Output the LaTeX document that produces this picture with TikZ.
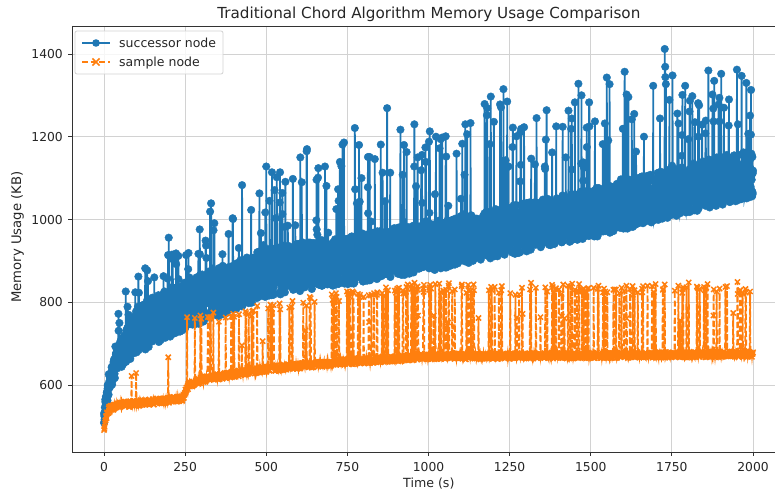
\documentclass[tikz,border=0pt]{standalone}
\usepackage{fontspec}
\setmainfont{DejaVu Sans}
\usetikzlibrary{plotmarks}
\definecolor{cblue}{HTML}{1F77B4}
\definecolor{corange}{HTML}{FF7F0E}
\definecolor{gridc}{HTML}{D2D2D2}
\definecolor{spinec}{HTML}{333333}
\tikzset{
  gridline/.style={draw=gridc, line width=0.9pt},
  tickmark/.style={draw=spinec, line width=0.9pt},
  spine/.style={draw=spinec, line width=0.9pt},
  ticklab/.style={inner sep=0pt, font=\fontsize{12.3}{14}\selectfont, text=black!85},
  axlab/.style={inner sep=0pt, font=\fontsize{12.6}{14}\selectfont, text=black!85},
  titlelab/.style={inner sep=0pt, font=\fontsize{15.2}{17}\selectfont, text=black!85},
  leglab/.style={inner sep=0pt, font=\fontsize{12.5}{14}\selectfont, text=black!85},
  succline/.style={draw=cblue, line width=1.8pt, mark=*, mark size=3.8pt,
    mark options={solid, fill=cblue, draw=cblue, line width=0.4pt}},
  sampline/.style={draw=corange, line width=1.8pt, dash pattern=on 6pt off 2.6pt,
    mark=x, mark size=3.6pt, mark options={solid, draw=corange, line width=1.5pt}},
}
\newcommand\bluecoords{}
\newcommand\orangecoords{}
\newcommand\lastpt{}
\begin{document}
\begin{tikzpicture}[x=1pt,y=-1pt]
\pgfmathsetseed{20240}
\useasboundingbox (0,0) rectangle (775,492);
\clip (0,0) rectangle (775,492);
\fill[white] (0,0) rectangle (775,492);

% grid
\foreach \k in {0,...,8}{
  \pgfmathsetmacro\xx{104+81.125*\k}
  \draw[gridline] (\xx,26) -- (\xx,452);
}
\foreach \k in {0,...,4}{
  \pgfmathsetmacro\yy{385-82.76*\k}
  \draw[gridline] (72,\yy) -- (786,\yy);
}

% data
\begin{scope}
\clip (72,26) rectangle (786,452);
\begin{scope}[shift={(104pt,-633.28pt)}, x=0.3245pt, y=0.4138pt]
% successor node series, drawn in chunks
\foreach \ta/\tb/\va/\vb in {0/10/505/560, 10/26/560/604, 26/50/604/640, 50/100/640/675, 100/250/675/735, 250/500/735/812, 500/750/812/843.5, 750/1000/843.5/875, 1000/1250/875/915, 1250/1500/915/955, 1500/1750/955/1005, 1750/2000.5/1005/1055.1}{
  \pgfmathtruncatemacro\nn{2*(\tb-\ta)-1}
  \xdef\bluecoords{\lastpt}
  \foreach \i in {0,...,\nn}{
    \pgfmathsetmacro\tq{\ta+0.5*\i}
    \pgfmathtruncatemacro\vq{\va+(\vb-\va)*((\tq-\ta)/(\tb-\ta))+min(118,30+0.8*\tq)*rnd+(rnd<0.065)*((\tq<300)?min(160,30+2*\tq):min(305,160+0.3*(\tq-300)))*(0.3+0.7*rnd)}
    \xdef\bluecoords{\bluecoords(\tq,\vq)}
    \xdef\lastpt{(\tq,\vq)}
  }
  \edef\drawblue{\noexpand\draw[succline] plot coordinates {\bluecoords};}
  \drawblue
}
% sample node series
\foreach \ta/\tb/\va/\vb in {0/6/482/515, 6/16/515/535, 16/40/535/545, 40/240/545/560, 240/262/560/595, 262/320/595/610, 320/500/610/632, 500/750/632/650, 750/1000/650/662, 1000/2001/662/668.01}{
  \pgfmathtruncatemacro\tn{\ta+1}
  \pgfmathtruncatemacro\te{\tb-1}
  \foreach \tq in {\ta,\tn,...,\te}{
    \pgfmathsetmacro\bq{\va+(\vb-\va)*((\tq-\ta)/(\tb-\ta))}
    \pgfmathtruncatemacro\vq{\bq+14*rnd+((\tq<250)?(rnd<0.012)*(60+60*rnd):(rnd<0.12)*(min(843,765+0.12*(\tq-250))-20*rnd-(rnd<0.08)*70-\bq-6))}
    \xdef\orangecoords{\orangecoords(\tq,\vq)}
  }
}
\edef\draworange{\noexpand\draw[sampline] plot coordinates {\orangecoords};}
\draworange
\end{scope}
\end{scope}

% spines
\draw[spine] (72,26) -- (786,26);
\draw[spine] (72,452) -- (786,452);
\draw[spine] (72,26) -- (72,452);
\draw[spine] (785.5,26) -- (785.5,452);

% ticks and labels
\foreach \k in {0,...,8}{
  \pgfmathsetmacro\xx{104+81.125*\k}
  \pgfmathtruncatemacro\lab{250*\k}
  \draw[tickmark] (\xx,452) -- (\xx,456);
  \node[ticklab, anchor=base] (xt\k) at (\xx,471.7) {\lab};
}
\foreach \k in {0,...,4}{
  \pgfmathsetmacro\yy{385-82.76*\k}
  \pgfmathsetmacro\yb{\yy+4.7}
  \pgfmathtruncatemacro\lab{600+200*\k}
  \draw[tickmark] (68,\yy) -- (72,\yy);
  \node[ticklab, anchor=base east] (yt\k) at (63,\yb) {\lab};
}

% titles
\node[titlelab, anchor=base] (title) at (428.8,19) {Traditional Chord Algorithm Memory Usage Comparison};
\node[axlab, anchor=base] (xlab) at (428.8,487.5) {Time (s)};
\node[axlab, rotate=90, font=\fontsize{13.2}{15}\selectfont] (ylab) at (17.5,237) {Memory Usage (KB)};

% legend
\draw[draw=gray!35, fill=white, fill opacity=0.8, line width=0.8pt, rounded corners=2pt] (75,31) rectangle (223,74);
\draw[draw=cblue, line width=1.8pt] (82,43) -- (110,43);
\fill[cblue] (96,43) circle (3.8);
\node[leglab, anchor=base west] (leg1) at (119,47.5) {successor node};
\draw[draw=corange, line width=1.8pt, dash pattern=on 6pt off 2.6pt] (82,62) -- (110,62);
\draw[draw=corange, line width=1.5pt] (92.4,58.4) -- (99.6,65.6) (92.4,65.6) -- (99.6,58.4);
\node[leglab, anchor=base west] (leg2) at (119,66.5) {sample node};
\end{tikzpicture}
\end{document}
